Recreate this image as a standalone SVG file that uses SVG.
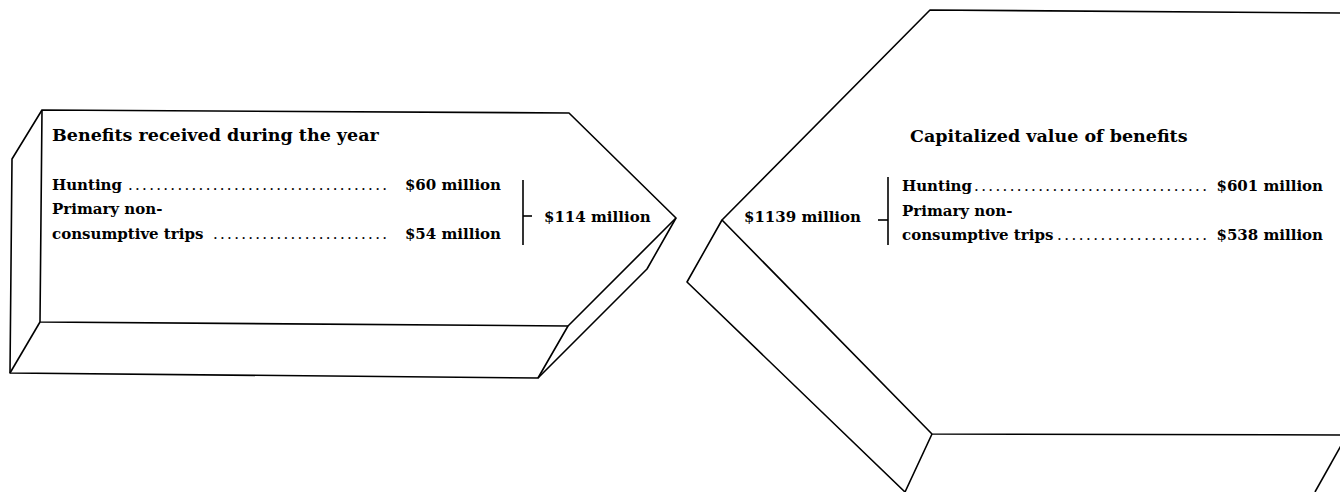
<svg xmlns="http://www.w3.org/2000/svg" width="1340" height="492" viewBox="0 0 1340 492">
<style>
.ln{fill:none;stroke:#000;stroke-width:1.6;stroke-linejoin:round}
.face{fill:#fff;stroke:#000;stroke-width:1.6;stroke-linejoin:round}
.t{font-family:"DejaVu Serif","Liberation Serif",serif;font-weight:bold;fill:#000}
.h{font-size:17.5px}
.i{font-size:15px}
.d{font-size:15px;font-weight:normal}
.e{text-anchor:end}
</style>
<rect width="1340" height="492" fill="#fff"/>
<g id="annual-benefits">
<polygon class="face" points="42,110 569,113 676,218 568,326 40,322"/>
<polyline class="ln" points="42,110 12,159 10,373 538,378 568,326"/>
<line class="ln" x1="10" y1="373" x2="40" y2="322"/>
<polyline class="ln" points="676,218 647,269 538,378"/>
<text class="t h" x="52" y="141">Benefits received during the year</text>
<text class="t i" x="52" y="190">Hunting</text>
<text class="t d" x="128" y="190" textLength="259" lengthAdjust="spacing">.....................................</text>
<text class="t i e" x="501" y="190">$60 million</text>
<text class="t i" x="52" y="214">Primary non-</text>
<text class="t i" x="52" y="239">consumptive trips</text>
<text class="t d" x="213" y="239" textLength="174" lengthAdjust="spacing">.........................</text>
<text class="t i e" x="501" y="239">$54 million</text>
<polyline class="ln" points="523,180 523,245"/>
<line class="ln" x1="523" y1="216" x2="532" y2="216"/>
<text class="t i" x="544" y="222">$114 million</text>
</g>
<g id="capitalized-value">
<polygon class="face" points="930,10 1350,13 1347,435 932,434 722,220"/>
<polyline class="ln" points="722,220 687,282 905,492 932,434"/>
<line class="ln" x1="1347" y1="435" x2="1315" y2="492"/>
<text class="t h" x="910" y="142">Capitalized value of benefits</text>
<text class="t i" x="902" y="191">Hunting</text>
<text class="t d" x="974" y="191" textLength="233" lengthAdjust="spacing">.................................</text>
<text class="t i e" x="1323" y="191">$601 million</text>
<text class="t i" x="902" y="216">Primary non-</text>
<text class="t i" x="902" y="240">consumptive trips</text>
<text class="t d" x="1057" y="240" textLength="150" lengthAdjust="spacing">.....................</text>
<text class="t i e" x="1323" y="240">$538 million</text>
<line class="ln" x1="888" y1="177" x2="888" y2="245"/>
<line class="ln" x1="878" y1="220" x2="888" y2="220"/>
<text class="t i" x="744" y="222">$1139 million</text>
</g>
<g id="connectors"></g>
</svg>
